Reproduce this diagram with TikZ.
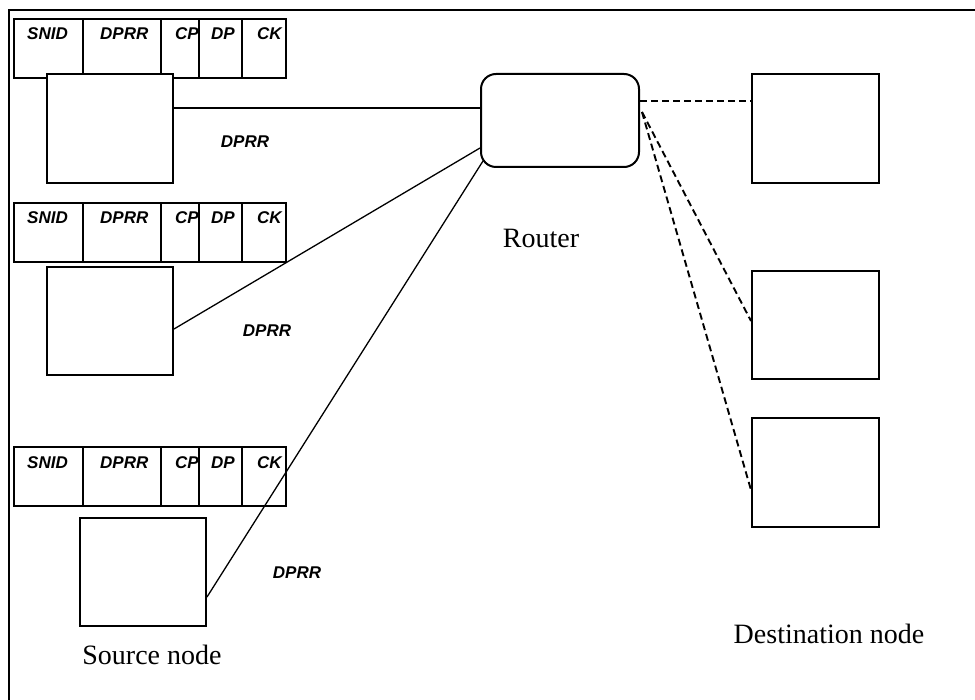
\documentclass[tikz,border=0pt]{standalone}
\usepackage{fontspec}
\setmainfont{Liberation Serif}
\newfontfamily\hdrfont{Liberation Sans}[BoldItalicFont={* Bold Italic}]
\begin{document}
\begin{tikzpicture}[x=1pt,y=-1pt,
  box/.style={draw,line width=2pt,fill=white,inner sep=0pt},
  hdrbox/.style={draw,line width=2pt},
  hdrtext/.style={anchor=base west,inner sep=0pt,font=\hdrfont\bfseries\itshape\fontsize{17}{17}\selectfont},
  lbl/.style={inner sep=0pt,font=\hdrfont\bfseries\itshape\fontsize{17}{17}\selectfont},
  big/.style={inner sep=0pt,font=\fontsize{28}{28}\selectfont},
  conn/.style={line width=1.3pt},
  dconn/.style={line width=1.9pt,dash pattern=on 7pt off 4pt}]
\useasboundingbox (0,0) rectangle (975,700);
\draw[line width=2pt] (9,10) rectangle (990,715);
% header rows
\foreach \t/\n in {19/1,203/2,447/3}{
  \draw[hdrbox] (14,\t) rectangle (286,\t+59);
  \foreach \xx in {83,161,199,242}{\draw[hdrbox] (\xx,\t) -- (\xx,\t+59);}
  \node[hdrtext] (snid\n) at (27,\t+21) {SNID};
  \node[hdrtext] (dprr\n) at (100,\t+21) {DPRR};
  \node[hdrtext] (cp\n) at (175,\t+21) {CP};
  \node[hdrtext] (dp\n) at (211,\t+21) {DP};
  \node[hdrtext] (ck\n) at (257,\t+21) {CK};
}
% source boxes
\node[box,minimum width=126pt,minimum height=109pt] (src1) at (110,128.5) {};
\node[box,minimum width=126pt,minimum height=108pt] (src2) at (110,321) {};
\node[box,minimum width=126pt,minimum height=108pt] (src3) at (143,572) {};
% router
\node[box,rounded corners=15pt,minimum width=158pt,minimum height=93pt] (router) at (560,120.5) {};
% destinations
\node[box,minimum width=127pt,minimum height=109pt] (d1) at (815.5,128.5) {};
\node[box,minimum width=127pt,minimum height=108pt] (d2) at (815.5,325) {};
\node[box,minimum width=127pt,minimum height=109pt] (d3) at (815.5,472.5) {};
% connectors
\draw[conn] ([yshift=20.5pt]src1.east) -- ([yshift=12.5pt]router.west);
\draw[conn] ([yshift=-8pt]src2.east) -- ([yshift=-27.5pt]router.west);
\draw[conn] ([yshift=-25pt]src3.east) -- ([shift={(3pt,7pt)}]router.south west);
\draw[dconn] ([yshift=19.5pt]router.east) -- ([yshift=27.5pt]d1.west);
\draw[dconn] ([shift={(2pt,8.5pt)}]router.east) -- ([yshift=4pt]d2.west);
\draw[dconn] ([shift={(2pt,8.5pt)}]router.east) -- ([yshift=-17.5pt]d3.west);
% labels
\node[lbl] (l1) at (245,142) {DPRR};
\node[lbl] (l2) at (267,331) {DPRR};
\node[lbl] (l3) at (297,573) {DPRR};
\node[big] (rlbl) at (541,238) {Router};
\node[big] (slbl) at (152,655) {Source node};
\node[big] (dlbl) at (829,634) {Destination node};
\end{tikzpicture}
\end{document}
